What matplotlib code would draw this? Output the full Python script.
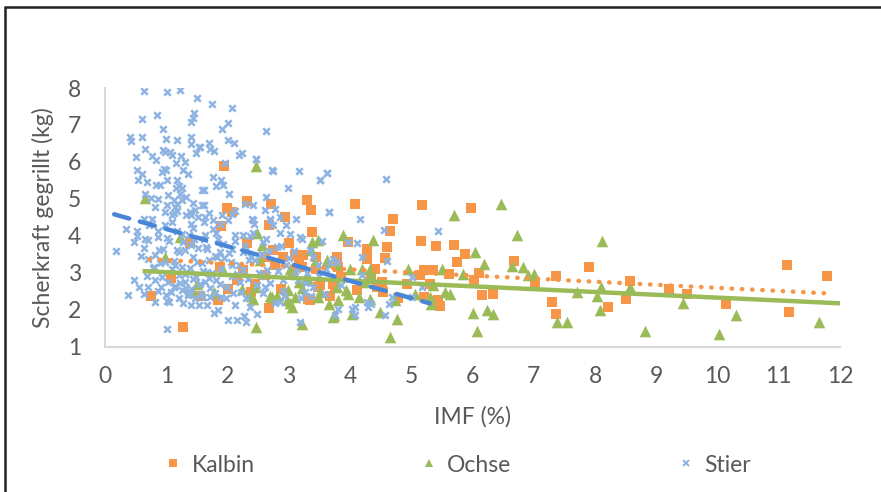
import numpy as np
import matplotlib
matplotlib.use('Agg')
import matplotlib.pyplot as plt
from matplotlib.patches import Rectangle
from matplotlib.lines import Line2D

# Daten
kalbin_x = [1.94, 2.32, 1.99, 2.08, 2.71, 3.29, 3.37, 2.94, 3.38, 1.90, 2.67, 3.01, 2.32, 1.38, 2.75,
            2.91, 3.10, 3.24, 2.62, 2.78, 3.16, 1.08, 0.75, 1.28, 2.67, 1.55, 1.85, 2.01, 2.15, 2.39,
            2.45, 2.61, 2.26, 2.88, 3.32, 3.67, 3.48, 3.73, 3.07, 3.21, 3.45, 3.78, 1.88, 4.08, 4.71,
            5.17, 4.65, 3.97, 5.16, 4.27, 4.61, 4.57, 4.27, 4.41, 3.45, 3.81, 3.86, 3.76, 3.51, 3.35,
            4.11, 4.35, 4.44, 4.54, 4.52, 4.79, 4.93, 5.14, 5.20, 5.97, 5.40, 5.70, 5.87, 5.74, 5.20,
            5.36, 5.62, 6.11, 6.03, 6.68, 5.31, 5.44, 5.47, 6.15, 6.33, 7.36, 7.02, 7.29, 7.36, 7.91,
            8.57, 8.21, 8.50, 9.20, 9.51, 10.14, 11.14, 11.17, 11.79]
kalbin_y = [5.88, 4.93, 4.74, 4.65, 4.87, 4.96, 4.69, 4.51, 4.10, 4.26, 4.28, 3.81, 3.79, 3.80, 3.61,
            3.42, 3.47, 3.47, 3.42, 3.20, 3.24, 2.86, 2.36, 1.52, 2.05, 2.36, 2.25, 2.57, 2.79, 2.47,
            2.70, 2.93, 3.06, 2.57, 2.29, 2.38, 2.61, 2.70, 2.97, 3.15, 3.11, 3.42, 3.15, 4.87, 4.45,
            4.83, 4.13, 3.83, 3.86, 3.65, 3.70, 3.41, 3.38, 3.11, 3.42, 3.15, 2.88, 2.61, 2.66, 2.25,
            2.52, 2.84, 2.61, 2.47, 2.75, 2.32, 2.70, 2.93, 2.34, 4.76, 3.71, 3.76, 3.51, 3.28, 3.06,
            3.06, 2.97, 3.00, 2.81, 3.32, 2.70, 2.27, 2.09, 2.40, 2.43, 2.91, 2.72, 2.20, 1.89, 3.14,
            2.77, 2.08, 2.28, 2.56, 2.41, 2.16, 3.20, 1.93, 2.90]

ochse_x = [0.66, 2.46, 2.47, 3.21, 3.74, 3.65, 3.05, 2.97, 2.80, 2.42, 2.23, 1.78, 1.44, 1.50, 1.93,
           2.48, 3.38, 3.48, 3.02, 3.29, 3.51, 2.56, 1.22, 0.98, 2.72, 3.10, 3.63, 3.78, 2.45, 2.39,
           2.69, 2.99, 3.21, 2.53, 3.16, 3.02, 3.89, 4.38, 3.37, 3.43, 3.62, 4.00, 4.19, 4.33, 4.94,
           3.29, 3.78, 3.94, 4.24, 4.35, 3.48, 3.81, 3.97, 4.14, 4.33, 4.49, 4.73, 4.76, 5.06, 3.73,
           4.03, 4.65, 5.70, 6.47, 6.73, 6.04, 6.18, 5.51, 5.85, 6.65, 6.83, 6.91, 7.01, 5.36, 5.55,
           5.63, 5.31, 5.32, 6.01, 6.23, 6.34, 6.07, 7.38, 7.54, 7.71, 8.11, 8.09, 8.03, 8.08, 8.57,
           8.82, 9.43, 10.03, 10.30, 11.65]
ochse_y = [5.01, 5.88, 1.54, 1.60, 1.84, 2.16, 2.07, 2.25, 2.38, 2.29, 2.57, 2.47, 2.47, 2.70, 3.06,
           4.06, 3.83, 3.88, 3.11, 2.84, 2.47, 3.74, 3.97, 3.42, 2.34, 2.34, 3.33, 3.24, 2.61, 2.38,
           2.38, 2.52, 2.58, 3.33, 2.75, 2.19, 4.01, 3.89, 3.61, 3.29, 3.29, 3.11, 3.11, 3.11, 3.11,
           2.88, 2.61, 2.52, 2.75, 2.93, 2.34, 2.25, 2.43, 2.34, 2.29, 1.93, 2.25, 1.75, 2.43, 1.80,
           1.89, 1.25, 4.55, 4.87, 4.02, 3.56, 3.24, 3.11, 2.95, 3.17, 3.14, 2.93, 2.97, 2.66, 2.47,
           2.43, 2.34, 2.16, 1.91, 1.98, 1.87, 1.43, 1.66, 1.66, 2.47, 3.85, 2.61, 2.37, 2.00, 2.61,
           1.41, 2.18, 1.34, 1.84, 1.66]

stier_x = [0.64, 1.01, 1.23, 1.50, 1.46, 1.43, 1.40, 0.85, 0.61, 0.94, 0.41, 0.42, 0.60, 0.99, 1.17,
           1.40, 1.40, 1.54, 1.48, 0.66, 0.95, 0.98, 1.06, 0.76, 0.83, 1.09, 1.24, 1.31, 0.50, 1.16,
           0.53, 0.61, 0.97, 1.00, 0.93, 1.28, 1.36, 0.54, 0.68, 1.01, 1.17, 0.83, 0.90, 1.21, 1.16,
           1.25, 1.58, 0.65, 0.75, 1.03, 1.22, 1.33, 0.87, 1.12, 1.17, 1.25, 1.44, 0.82, 1.01, 1.14,
           1.17, 1.39, 1.47, 1.58, 0.98, 1.09, 1.33, 1.41, 1.52, 0.63, 0.76,
           0.18, 0.34, 0.52, 0.53, 0.65, 0.71, 0.87, 0.87, 0.98, 1.09, 1.41, 1.61, 0.64, 0.82, 0.95,
           1.17, 1.31, 1.44, 1.58, 0.98, 1.14, 1.25, 0.71, 0.47, 0.82, 0.93, 1.03, 1.20, 1.31, 1.44,
           0.71, 0.87, 1.12, 1.25, 1.36, 1.47, 0.37, 0.63, 0.81, 1.05, 1.28, 1.41, 1.01,
           1.74, 2.07, 2.01, 1.91, 2.63, 2.00, 2.10, 1.69, 1.72, 1.78, 1.55, 2.19, 2.24, 2.47, 1.96,
           2.75, 3.16, 1.77, 1.89, 1.93, 1.82, 2.98, 2.03, 1.61, 2.63, 2.29, 2.41, 2.78, 1.61, 1.69,
           1.91, 2.07, 2.40, 2.61, 2.86, 2.69,
           1.77, 2.01, 2.42, 2.69, 2.96, 1.63, 1.82, 2.12, 2.26, 2.42, 2.63, 2.86, 3.18, 1.66, 1.88,
           2.07, 2.56, 2.80, 1.69, 1.90, 2.07, 2.26, 2.45, 2.64, 2.96, 3.13, 1.63, 1.82, 1.99, 2.20,
           2.48, 2.69, 2.91, 3.15, 1.71, 1.90, 2.09, 2.31, 2.58, 2.86, 1.66, 1.85, 2.12, 2.37, 2.48,
           2.77, 2.01, 2.15, 2.31, 3.18,
           2.72, 3.51, 3.63, 3.65, 2.47, 3.00, 3.10, 3.30, 3.40, 3.20, 2.90, 3.50, 3.60, 3.35,
           3.63, 3.51, 4.58, 3.66, 4.16, 4.56, 3.97, 4.12, 3.54, 4.19, 4.61, 3.73, 3.78, 3.67, 3.48,
           3.40, 4.19, 5.01, 3.27, 3.37, 3.59, 3.86, 4.27, 4.35, 4.30, 4.63, 4.68, 5.01, 4.57, 4.08,
           4.03, 4.08, 3.81, 3.76, 5.43, 5.17,
           1.10, 1.30, 1.50, 1.70, 1.20, 1.40, 1.60, 1.80, 0.90, 1.15, 1.35, 1.55, 1.75, 1.95, 2.15,
           1.05, 1.25, 1.45, 1.65, 1.85, 2.05, 2.25, 1.00, 1.20, 1.40, 1.60, 1.80, 2.35, 2.55, 0.80,
           0.88, 0.92, 1.02, 1.08, 1.12, 1.18, 1.22, 1.27, 1.33, 1.38, 1.43, 1.48, 1.52, 1.57, 1.62,
           1.67, 1.72, 1.77, 1.83, 1.87, 1.92, 1.97, 2.03, 2.08, 2.13, 2.18, 2.22, 2.28, 2.33, 2.38,
           2.43, 2.52, 2.58, 2.62, 2.68, 2.74, 2.82, 2.88, 2.93, 3.02, 3.08, 3.12, 3.22, 3.28, 0.78,
           0.72, 0.68, 0.58, 0.48, 0.55, 1.13, 1.37, 1.63, 1.88, 2.12, 2.37, 1.02, 1.53, 1.78, 2.27]
stier_y = [7.92, 7.90, 7.95, 7.72, 7.33, 7.20, 7.09, 7.27, 7.16, 6.89, 6.68, 6.57, 6.66, 6.62, 6.58,
           6.66, 6.48, 6.41, 6.24, 6.36, 6.33, 6.27, 6.27, 6.15, 6.06, 6.18, 6.15, 6.00, 6.14, 5.96,
           5.79, 5.67, 5.82, 5.78, 5.73, 5.78, 5.66, 5.52, 5.45, 5.51, 5.52, 5.37, 5.37, 5.34, 5.28,
           5.28, 5.23, 5.14, 5.03, 5.10, 5.14, 5.05, 4.99, 4.96, 4.87, 4.96, 4.89, 4.78, 4.83, 4.78,
           4.67, 4.64, 4.69, 4.83, 4.64, 4.55, 4.55, 4.55, 4.51, 4.46, 4.46,
           3.58, 4.19, 4.14, 4.00, 3.92, 3.88, 3.97, 4.12, 4.30, 4.37, 4.33, 4.37, 3.68, 3.47, 3.65,
           3.61, 3.61, 3.43, 3.25, 3.29, 3.20, 3.15, 3.38, 2.80, 2.80, 2.88, 2.75, 2.93, 2.75, 2.84,
           2.60, 2.51, 2.61, 2.53, 2.39, 2.30, 2.40, 2.43, 2.20, 2.20, 2.17, 2.13, 1.48,
           7.58, 7.47, 7.04, 6.88, 6.84, 6.59, 6.52, 6.50, 6.36, 6.29, 6.41, 6.18, 6.23, 6.09, 5.96,
           5.76, 5.75, 5.58, 5.50, 5.37, 5.34, 5.28, 5.12, 5.23, 5.04, 4.87, 4.82, 4.73, 4.83, 4.62,
           4.55, 4.60, 4.46, 4.69, 4.50, 4.46,
           4.42, 4.42, 4.42, 4.42, 4.28, 4.01, 4.06, 3.87, 4.01, 4.06, 3.92, 4.06, 3.97, 3.65, 3.56,
           3.65, 3.51, 3.69, 3.33, 3.11, 3.20, 3.06, 3.33, 3.06, 3.20, 3.11, 2.75, 2.80, 2.62, 2.75,
           2.66, 2.71, 2.80, 2.80, 2.35, 2.35, 2.44, 2.30, 2.44, 2.20, 2.12, 1.98, 2.12, 2.08, 1.89,
           2.17, 1.73, 1.71, 1.66, 1.66,
           5.78, 5.50, 5.71, 4.64, 6.09, 3.40, 2.90, 3.00, 2.60, 2.30, 2.50, 2.90, 3.10, 3.60,
           5.71, 5.50, 5.53, 4.64, 4.44, 4.15, 3.83, 3.80, 3.86, 3.42, 3.31, 3.38, 3.29, 3.29, 3.20,
           3.42, 2.93, 2.88, 2.47, 2.38, 2.43, 2.66, 2.20, 2.16, 2.07, 2.16, 2.34, 2.34, 1.84, 2.07,
           2.02, 1.84, 2.02, 1.84, 4.12, 2.61,
           3.10, 2.95, 3.30, 2.85, 3.55, 3.75, 3.05, 3.45, 3.25, 2.65, 2.45, 2.70, 3.00, 3.40, 2.95,
           3.85, 4.05, 3.90, 3.70, 3.90, 3.30, 3.55, 2.40, 2.30, 2.55, 2.35, 2.45, 3.35, 2.90, 3.15,
           3.62, 2.62, 3.95, 2.48, 3.32, 4.12, 2.72, 3.82, 2.58, 3.12, 4.22, 2.88, 3.68, 2.42, 3.92,
           3.02, 2.58, 4.18, 3.42, 2.68, 3.78, 2.32, 3.52, 2.92, 4.02, 3.22, 2.48, 3.72, 2.82, 3.42,
           4.32, 2.98, 3.82, 2.62, 3.58, 4.28, 3.05, 3.72, 2.38, 4.05, 3.58, 4.45, 3.92, 2.72, 3.12,
           4.28, 2.92, 3.45, 3.82, 2.62, 4.62, 4.02, 4.52, 4.32, 4.68, 3.98, 2.22, 2.12, 1.92, 1.82]

# lineare Trendlinien (Steigung, Achsenabschnitt, x-Bereich)
kalbin_trend = (-0.0832, 3.42, 0.73, 11.79)
ochse_trend = (-0.0767, 3.09, 0.65, 12.0)
stier_trend = (-0.468, 4.65, 0.15, 5.30)

c_kalbin = '#F79646'
c_ochse = '#9BBB59'
c_stier = '#8DB3E2'
c_stier_line = '#4A86D8'

plt.rcParams['font.family'] = ['Lato', 'DejaVu Sans']
fs = 16.5

fig = plt.figure(figsize=(8.81, 4.92), dpi=100)
ax = fig.add_axes([105/881, (492-346.5)/492, (840-105)/881, (346.5-88)/492])

ax.scatter(kalbin_x, kalbin_y, marker='s', s=50, color=c_kalbin, linewidths=0, zorder=2)
ax.scatter(ochse_x, ochse_y, marker='^', s=70, color=c_ochse, linewidths=0, zorder=2)
ax.scatter(stier_x, stier_y, marker='x', s=22, color=c_stier, linewidths=1.8, zorder=3)

for tr, col, ls in [(kalbin_trend, c_kalbin, (0, (0.1, 2.2))),
                    (ochse_trend, c_ochse, '-'),
                    (stier_trend, c_stier_line, (0, (3.5, 2.5)))]:
    m, b, x0, x1 = tr
    xx = np.array([x0, x1])
    ax.plot(xx, m*xx + b, color=col, lw=3.2, linestyle=ls, dash_capstyle='round', zorder=4)

ax.set_xlim(0, 12)
ax.set_ylim(1, 8)
ax.set_xticks(range(0, 13))
ax.set_yticks(range(1, 9))
for s in ['top', 'right']:
    ax.spines[s].set_visible(False)
for s in ['left', 'bottom']:
    ax.spines[s].set_color('#D9D9D9')
    ax.spines[s].set_linewidth(1.5)
ax.tick_params(length=0, labelsize=fs, labelcolor='#595959')
ax.tick_params(axis='y', pad=17)
ax.tick_params(axis='x', pad=14)
ax.set_xlabel('IMF (%)', fontsize=fs, color='#595959', labelpad=14)
ax.set_ylabel('Scherkraft gegrillt (kg)', fontsize=fs, color='#595959', labelpad=10)

handles = [Line2D([], [], marker='s', ls='', color=c_kalbin, markersize=6, mew=0),
           Line2D([], [], marker='^', ls='', color=c_ochse, markersize=6, mew=0),
           Line2D([], [], marker='x', ls='', color=c_stier, markersize=4, mew=1.4)]
fig.legend(handles, ['Kalbin', 'Ochse', 'Stier'], loc='center left',
           bbox_to_anchor=(164/881, 1 - 465/492), borderpad=0, borderaxespad=0,
           ncol=3, frameon=False, fontsize=fs, labelcolor='#595959', handlelength=0.8,
           handletextpad=0.4, columnspacing=7.2)

# Rahmen
fig.patches.append(Rectangle((5/881, -0.1), 1.2, 1.1 - 7/492, transform=fig.transFigure,
                             fill=False, edgecolor='#222222', lw=1.8))

fig.savefig('out.png', dpi=100)
